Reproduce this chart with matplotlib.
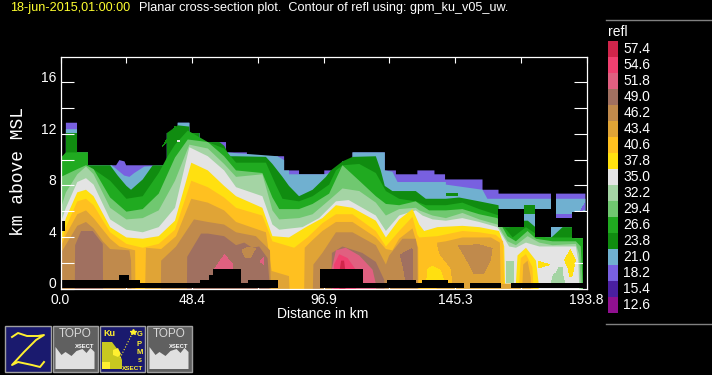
import matplotlib
matplotlib.use("Agg")
import matplotlib.pyplot as plt
from matplotlib.patches import Rectangle, Polygon

W, H = 712, 375
LEVELS = [12.6, 15.4, 18.2, 21.0, 23.8, 26.6, 29.4, 32.2, 35.0, 37.8, 40.6, 43.4, 46.2, 49.0, 51.8, 54.6, 57.4]
COLORS = ['#901090', '#4A1FA0', '#7860E0', '#70B0D0', '#108C10', '#20AA20', '#70C870', '#A4D4A4',
          '#E4E4E4', '#FFE010', '#FFC020', '#E0A436', '#C08A4C', '#A07060', '#E06080', '#F04070', '#D0254B']
COLOR_OF = dict(zip(LEVELS, COLORS))

# Echo-top height (km) of each reflectivity level along the section (km)
X_182 = [0, 1.8, 1.8, 5.9, 5.9, 9.9, 9.9, 20.3, 21.5, 23.4, 24, 39, 39, 43, 43, 47.3, 47.3, 51, 51, 60.8, 60.8, 68.5, 68.5, 82.2, 82.2, 87.7, 87.7, 97, 97, 103.7, 103.7, 107.4, 107.4, 119.3, 119.3, 123.4, 123.4, 131.3, 131.3, 137.6, 137.6, 141.5, 141.5, 155.3, 155.3, 161.2, 161.2, 193.2]
Z_182 = [10.1, 10.1, 12.9, 12.9, 10.6, 10.6, 9.6, 9.6, 10, 9.9, 9.6, 9.6, 12.1, 12.1, 12.9, 12.9, 12.1, 12.1, 11.4, 11.4, 10.6, 10.6, 10.3, 10.3, 9.2, 9.2, 8.9, 8.9, 9.2, 9.2, 9.9, 9.9, 10.6, 10.6, 9.2, 9.2, 8.9, 8.9, 9.2, 9.2, 8.9, 8.9, 8.5, 8.5, 7.7, 7.7, 7.4, 7.4]
X_210 = [0, 1.8, 1.8, 5.9, 5.9, 9.9, 9.9, 18.7, 23.3, 25.2, 27, 30.7, 39, 39, 43, 43, 47.3, 47.3, 51, 51, 58.4, 60.8, 79.8, 82.2, 82.2, 84, 84, 97, 103.7, 103.7, 107.4, 107.4, 119.3, 119.3, 122.1, 124, 130.7, 141.8, 141.8, 155.3, 157.1, 193.2]
Z_210 = [10.1, 10.1, 12.4, 12.4, 10.6, 10.6, 9.6, 9.6, 8.8, 8.7, 9.0, 9.5, 9.6, 12.1, 12.1, 12.9, 12.9, 12.1, 12.1, 11.4, 11.4, 10.6, 10.3, 10.0, 9.2, 9.2, 8.9, 8.9, 9.2, 9.9, 9.9, 10.6, 10.6, 9.2, 9.1, 8.3, 8.3, 8.3, 8.1, 7.7, 7.0, 7.0]
X_238 = [0, 1.8, 1.8, 5.9, 5.9, 9.9, 9.9, 18.1, 20.9, 24.1, 25.8, 30.1, 33.8, 39, 39, 43, 47.3, 47.3, 51, 51, 58.4, 60.2, 62, 64.5, 75.5, 77.9, 81.6, 84, 87.7, 92.7, 97.6, 99.4, 103.7, 107.4, 116, 117.8, 119.3, 122.1, 130.7, 134.4, 141.8, 146.7, 154.1, 161.2, 161.7, 165.1, 167.6, 170.7, 172, 174.8, 175, 180.7, 184.8, 188.5, 188.6, 192.5]
Z_238 = [10.1, 10.1, 12.1, 12.1, 10.6, 10.6, 9.6, 9.6, 8.8, 8, 7.7, 8.5, 9.6, 9.6, 12.1, 12.7, 12.6, 12.1, 12.1, 11.4, 11.4, 11.1, 10.3, 10.3, 10.25, 9.7, 8.7, 8, 7.2, 7.7, 8.7, 9.2, 9.9, 10.25, 10.3, 9.2, 8, 7.6, 7.6, 7.0, 7.0, 7.1, 6.8, 6.5, 4.8, 4.8, 4.9, 5.3, 5.3, 4.8, 4.0, 4.0, 4.8, 4.8, 3.9, 3.9]
X_266 = [0, 1.8, 9.9, 9.9, 18.1, 24.1, 30.1, 36, 39.3, 42, 46.7, 54.1, 60.1, 64.5, 75.5, 79.1, 81.6, 87.7, 92.7, 98.8, 101.3, 103.7, 109.9, 116, 119.7, 124.6, 130.7, 134.4, 141.8, 147.9, 154.1, 161.4, 163.3, 166.4, 171.3, 174.8, 178.6, 192.5]
Z_266 = [10.2, 10.6, 10.6, 9.6, 8.4, 7, 7.2, 9.0, 10.3, 11.2, 12.3, 11.4, 10.9, 9.8, 9.8, 8.1, 7, 6.8, 7.2, 8.1, 9.2, 9.6, 9.7, 9.0, 7.6, 7, 6.8, 6.5, 6.5, 6.7, 6.2, 5.7, 4.8, 4.0, 4.8, 4.3, 4.0, 4.0]
X_294 = [0, 6, 9.2, 12, 18.1, 24.1, 30.1, 36, 42, 46.7, 54.1, 60.1, 64.5, 74.2, 77.9, 80.4, 87.7, 92.7, 98.8, 103.7, 109.9, 116, 119.7, 124.6, 130.7, 132, 135.6, 141.8, 147.9, 154.1, 160.8, 164.5, 167.6, 171.9, 175, 181.1, 189.7, 191.5, 192.2]
Z_294 = [8.7, 9.3, 9.6, 9.3, 7.1, 6.0, 6.2, 7.4, 10.2, 11.6, 11.4, 10.3, 9.2, 9.0, 7.1, 6.2, 6.2, 6.6, 7.4, 9.6, 8.4, 7.2, 6.6, 6.5, 6.8, 6.6, 6.1, 6.1, 6.2, 5.8, 5.5, 4.1, 3.7, 4.5, 3.9, 3.7, 3.7, 3.3, 0.4]
X_322 = [0, 1.8, 6, 9.2, 12, 18.1, 24.1, 30.1, 36, 42, 47.3, 54.1, 60.1, 64.5, 74.2, 77.9, 80.4, 87.7, 92.7, 99.4, 103.7, 109.9, 116, 119.7, 124.6, 130.7, 132, 136.9, 141.8, 147.9, 154.1, 160.8, 164.5, 167.6, 171.9, 176.2, 181.1, 189.7, 190.9, 191.5]
Z_322 = [6.3, 7.5, 8.9, 9.5, 8.9, 6.3, 5.4, 5.5, 6.1, 8.4, 11.2, 10.9, 9.7, 8.7, 8.9, 6.1, 5.4, 5.5, 5.8, 7.0, 7.8, 7.6, 6.7, 5.7, 6.2, 6.3, 6.1, 5.7, 5.5, 5.9, 5.4, 5.0, 3.7, 3.4, 4.1, 3.6, 3.4, 3.5, 2.7, 0.4]
X_350 = [0, 1.8, 6, 9.2, 12, 18.1, 24.1, 30.1, 36, 42, 47.3, 54.1, 60.1, 64.5, 74.2, 77.9, 80.4, 89, 95.1, 101.3, 106, 116, 119.7, 124.6, 130.7, 133.2, 136.9, 141.8, 147.9, 154.1, 160.8, 165.1, 167.6, 171.3, 176.2, 189.7, 190.6, 190.9]
Z_350 = [5.2, 6.3, 8.3, 8.6, 8.1, 5.4, 4.6, 4.4, 4.8, 6.3, 11, 10.3, 9.2, 7.9, 7.2, 5, 4.6, 4.8, 5.5, 6.8, 6.9, 5.7, 4.5, 5.7, 6.1, 5.7, 5.4, 5.3, 5.5, 5.2, 4.8, 3.3, 3.2, 3.6, 3.3, 3.3, 2.2, 0.4]
X_378 = [0, 1.8, 6, 9.2, 12, 18.1, 24.1, 30.1, 36, 42, 48, 54.1, 60.1, 64.5, 74.2, 77.9, 84, 90.2, 96.3, 101.3, 107.4, 116, 119.7, 124.6, 129.5, 132, 133.8, 138.7, 147.9, 154.1, 161.4, 163.3, 163.6, 167.6, 168.2, 171.3, 175, 176]
Z_378 = [4.1, 5.5, 7.5, 7.7, 7.2, 4.8, 4, 3.9, 4.1, 5.3, 9.8, 9.2, 8, 7.2, 6.3, 4.1, 4, 4.8, 5.5, 6.5, 6.3, 5.3, 4, 5.4, 6.2, 5, 4.5, 4.8, 4.9, 4.8, 4.5, 3.3, 0.4, 0.4, 2.6, 3.2, 2.2, 0.4]
X_406 = [0, 1.8, 6, 9.2, 12, 18.1, 24.1, 30.1, 36, 42, 48, 54.1, 60.1, 64.5, 74.2, 77.9, 85.9, 90.8, 96.3, 101.3, 107.4, 116, 119.7, 124.6, 129.5, 131.3, 132, 138.7, 147.9, 154.1, 160.2, 162.9, 163.3, 168.8, 169.4, 171.3, 173.7, 174]
Z_406 = [3.5, 4.8, 6.8, 7.0, 6.5, 4.4, 3.5, 3.2, 3.5, 4.6, 8.4, 7.9, 7.1, 6.3, 5.7, 3.7, 3.2, 4.0, 5.1, 5.8, 5.8, 4.5, 3.3, 4.5, 5.6, 4.2, 4.0, 4.1, 4.5, 4.4, 4.2, 3.7, 0.4, 0.4, 2.4, 2.7, 1.7, 0.4]
X_434 = [0, 1.8, 6, 9.2, 12, 18.1, 21.5, 27.3, 27.4, 31, 31.3, 36.9, 42.4, 48, 54.1, 60.1, 64.5, 75.5, 77.6, 84, 84.2, 89.6, 89.8, 92.7, 96.3, 101.3, 107.4, 116, 119.7, 122.1, 124.6, 129.5, 131.6, 131.7, 138.4, 138.6, 141.8, 147.9, 158.4, 161.7, 162, 170, 170.3, 171.9, 173.1, 173.2]
Z_434 = [3.3, 4.2, 5.8, 6.1, 5.5, 3.9, 3.3, 3, 0, 0, 3.2, 3.1, 4.1, 7, 6.7, 6.1, 5.2, 4.4, 1.4, 1, 0, 0, 3.2, 3.8, 4.5, 5.2, 5.2, 4, 3.1, 3, 3.9, 4.7, 3.2, 0, 0, 3.6, 3.7, 4, 4, 3.6, 0.4, 0.4, 1.9, 2.2, 0.9, 0]
X_462 = [0, 6, 9.2, 12, 15.4, 18.1, 25.2, 25.8, 26, 36.8, 36.9, 42.4, 49, 54.1, 60.1, 64.5, 71.8, 77, 77.3, 92.8, 93, 96.3, 101.3, 107.4, 116, 119.7, 120.9, 125.8, 130.7, 131.3, 131.4]
Z_462 = [2.8, 4.9, 5.2, 4.7, 3.7, 3.1, 3, 2.2, 0, 0, 2.2, 3.3, 5.4, 5.2, 5.0, 4.4, 4.1, 3, 0, 0, 1.9, 2.8, 4.4, 4.4, 3.4, 1.9, 2.6, 3.9, 3.9, 3.2, 0]
X_490 = [5.1, 5.2, 7.4, 11.7, 15.4, 15.5, 46.4, 46.5, 51.6, 54.1, 60.1, 64.5, 67.5, 70.5, 73, 76.1, 76.7, 76.8, 99.6, 99.8, 103.7, 111, 116, 119.1, 119.2]
Z_490 = [0, 3.4, 4.5, 4.5, 3.5, 0, 0, 2.5, 4.3, 4.3, 4.1, 3.4, 3.6, 3.2, 3.3, 2.4, 0.8, 0, 0, 2.8, 3.3, 2.8, 2.1, 0.7, 0]
X_518 = [99.7, 99.8, 101.3, 104.9, 109.9, 114.8, 116, 116.1]
Z_518 = [0, 1.6, 3.0, 3.2, 2.6, 1.5, 0.4, 0]
X_546 = [100.5, 100.6, 102.5, 105.6, 108.6, 108.7]
Z_546 = [0, 1.9, 2.7, 2.4, 1.5, 0]
X_574 = [102.6, 102.7, 103.2, 104.3, 104.7, 104.8]
Z_574 = [0, 1.5, 2.2, 2.2, 1.5, 0]

BANDS = [(18.2, X_182, Z_182), (21.0, X_210, Z_210), (23.8, X_238, Z_238), (26.6, X_266, Z_266),
         (29.4, X_294, Z_294), (32.2, X_322, Z_322), (35.0, X_350, Z_350), (37.8, X_378, Z_378),
         (40.6, X_406, Z_406), (43.4, X_434, Z_434), (46.2, X_462, Z_462), (49.0, X_490, Z_490),
         (51.8, X_518, Z_518), (54.6, X_546, Z_546), (57.4, X_574, Z_574)]

# Closed pockets of reflectivity: (level, x km, z km)
POCKETS = [
    (23.8, [37.5, 42.4, 39.5], [11.0, 12.6, 11.5]),
    (35.0, [42.8, 44.2, 44.2, 42.8], [11.35, 11.35, 11.5, 11.5]),
    (23.8, [142.2, 146.3, 146.3, 142.2], [7.2, 7.2, 7.4, 7.4]),
    (18.2, [182.6, 188.5, 188.5, 182.6], [5.5, 5.5, 5.8, 5.8]),
    (18.2, [191.5, 193.2, 193.2], [5.95, 6.2, 6.6]),
    (23.8, [170.7, 175, 175, 170.7], [5.8, 5.8, 6.5, 6.5]),
    (32.2, [164.3, 167, 167, 164.3], [0.4, 0.4, 2.1, 2.1]),
    (32.2, [180.9, 181.5, 182.6, 183.5, 185, 185, 185.8], [0.4, 1.0, 1.2, 1.6, 1.6, 1.0, 0.4]),
    (37.8, [185.8, 187.8, 189.7, 188.5, 187.7, 187], [2.2, 3.0, 2.2, 1.0, 0.9, 1.6]),
    (37.8, [176, 180.1, 176], [2.1, 1.85, 1.6]),
    (40.6, [138.4, 139.5, 143.5, 144.2, 138.4], [3.4, 2.6, 1.5, 0.4, 0.4]),
    (37.8, [135, 135.4, 137, 140, 141], [0.7, 1.5, 1.7, 1.4, 0.7]),
    (46.2, [146.7, 154.1, 159, 158.4, 155.9, 152.2, 149.8], [3.3, 3.4, 3.1, 2.2, 1.2, 1.2, 2.2]),
    (49.0, [125.2, 129.5, 129.8, 127.1, 126.4], [2.6, 3.1, 0.7, 0.7, 1.6]),
    (46.2, [66.9, 69.3, 71.8, 69.9, 68.1], [3.0, 3.2, 3.1, 2.4, 2.4]),
    (51.8, [56.8, 60.4, 63.3, 63.3], [1.5, 2.6, 1.9, 1.5]),
    (51.8, [73.6, 74.8, 74.8], [2.1, 2.4, 1.9]),
]

# Terrain height (km), stepwise from each x
TERRAIN_X = [0, 21.4, 25.3, 29.4, 51.4, 54.8, 56.3, 66.5, 69.2, 80.1, 95.7, 111.4, 120.3, 131, 133.2, 142.9, 148.8, 151, 162.4, 165.8, 193.8]
TERRAIN_Z = [0.65, 1.08, 0.65, 0.4, 0.65, 1.08, 1.5, 0.4, 0.65, 0, 1.5, 0.4, 0.65, 0.4, 0.65, 0.4, 0, 0.4, 0, 0.4, 0.4]

# Missing-data boxes: x0, x1, z0, z1
NODATA = [(0, 1.8, 4.5, 5.2), (161.2, 170.7, 4.8, 6.2), (175, 180.7, 4.0, 6.2), (180.7, 182.6, 4.8, 7.4),
          (182.6, 188.5, 4.8, 5.5), (188.5, 192.5, 3.9, 5.9), (192.5, 193.8, 0, 5.9)]

YTICKS = [0, 2, 4, 6, 8, 10, 12, 14, 16]
YLABELS = ['0', '', '4', '', '8', '', '12', '', '16']
XTICKS = [0.0, 24.2, 48.4, 72.7, 96.9, 121.1, 145.3, 169.6, 193.8]
XLABELS = ['0.0', '', '48.4', '', '96.9', '', '145.3', '', '193.8']

plt.rcParams['font.family'] = ['Liberation Sans', 'DejaVu Sans']
fig = plt.figure(figsize=(W / 100, H / 100), dpi=100, facecolor='black')


def pixel_axes(x0, y0, x1, y1, **kw):
    return fig.add_axes([x0 / W, 1 - y1 / H, (x1 - x0) / W, (y1 - y0) / H], **kw)


ax = pixel_axes(60.5, 56.5, 586.5, 288.5, facecolor='black')
ax.set_xlim(0, 193.8)
ax.set_ylim(0, 18)
for level, xs, zs in BANDS:
    ax.fill_between(xs, 0, zs, color=COLOR_OF[level], lw=0, antialiased=False)
for level, xs, zs in POCKETS:
    ax.add_patch(Polygon(list(zip(xs, zs)), closed=True, fc=COLOR_OF[level], ec='none', antialiased=False))
ax.fill_between(TERRAIN_X, 0, TERRAIN_Z, step='post', color='black', lw=0, antialiased=False, zorder=3)
for x0, x1, z0, z1 in NODATA:
    ax.add_patch(Rectangle((x0, z0), x1 - x0, z1 - z0, fc='black', ec='none', antialiased=False, zorder=3))

for s in ax.spines.values():
    s.set_color('white')
    s.set_linewidth(0.9)
    s.set_zorder(6)
ax.set_xticks(XTICKS, XLABELS)
ax.set_yticks(YTICKS, YLABELS)
ax.tick_params(axis='x', direction='in', length=4.3, width=0.8, color='white', labelcolor='white',
               labelsize=10, top=True, pad=3)
ax.tick_params(axis='y', direction='in', length=9.4, width=0.8, color='white', labelcolor='white',
               labelsize=10, right=True, pad=3)
for t in ax.get_yticklabels():
    t.set_verticalalignment('baseline')

ov = fig.add_axes([0, 0, 1, 1], facecolor='none')
ov.set_xlim(0, W)
ov.set_ylim(H, 0)
ov.axis('off')
ov.text(10, 8, '18-jun-2015,01:00:00', color='#FFFF30', fontsize=9.1, va='center', ha='left')
ov.text(139, 8, 'Planar cross-section plot.  Contour of refl using: gpm_ku_v05_uw.', color='white',
        fontsize=9.1, va='center', ha='left')
ov.text(323, 314, 'Distance in km', color='white', fontsize=10, va='center', ha='center')
ov.text(19, 172, 'km above MSL', color='white', fontsize=13, rotation=90, va='center', ha='center',
        family='Liberation Mono')
ov.plot([606, 712], [19.5, 19.5], color='#808080', lw=1)
ov.plot([606, 712], [324, 324], color='#808080', lw=1)
ov.text(608, 32, 'refl', color='white', fontsize=10, va='center', ha='left')

cax = pixel_axes(608, 41, 618, 313)
cax.barh(range(len(LEVELS)), [1] * len(LEVELS), height=1, color=COLORS, antialiased=False)
cax.set_xlim(0, 1)
cax.set_ylim(-0.5, len(LEVELS) - 0.5)
cax.axis('off')
for i, v in enumerate(LEVELS):
    cax.text(1.55, i, f'{v:.1f}', color='white', fontsize=10, va='center', ha='left')


def frame(x, fc):
    ov.add_patch(Rectangle((x, 325.5), 45.5, 46.5, fc=fc, ec='#A0A0A0', lw=1))


def topo(x):
    frame(x, '#606060')
    ov.fill([x + 3, x + 3, x + 9, x + 13, x + 19, x + 24, x + 30, x + 34, x + 38, x + 42, x + 42],
            [369, 347, 355, 352, 356, 351, 349, 353, 348, 352, 369], color='#E0E0E0', lw=0)
    ov.text(x + 23, 334, 'TOPO', color='#D8D8D8', fontsize=8.5, ha='center', va='center')
    ov.text(x + 32, 346, 'XSECT', color='white', fontsize=4.2, weight='bold', ha='center', va='center')


frame(5, '#1A1A6E')
ov.plot([12, 18, 27, 38, 44, 36, 24, 12, 18, 32, 40, 44],
        [337, 333, 336, 336, 335, 340, 352, 365, 362, 365, 367, 362], color='#FFF030', lw=1.4)
topo(52.5)
frame(99.5, '#1A1A6E')
ov.fill([102, 102, 112, 118, 122, 122], [369, 342, 342, 350, 360, 369], color='#C8C820', lw=0)
ov.fill([102, 102, 110, 110], [369, 362, 362, 369], color='#FFF030', lw=0)
ov.fill([113, 118, 121, 118, 113], [350, 348, 354, 357, 355], color='#FFF030', lw=0)
ov.plot([120, 133], [358, 332], color='#FFF030', lw=0.8, ls=':')
ov.plot([133], [332], marker='*', color='#FFF030', ms=4)
ov.text(109, 333, 'Ku', color='#FFF030', fontsize=6.5, weight='bold', ha='center', va='center')
for i, c in enumerate('GPM'):
    ov.text(139.5, 335 + i * 9, c, color='#FFF030', fontsize=5.5, weight='bold', ha='center', va='center')
ov.text(139.5, 361, 'S', color='#FFF030', fontsize=4.2, weight='bold', ha='center', va='center')
ov.text(133, 368, 'XSECT', color='#FFF030', fontsize=4.6, weight='bold', ha='center', va='center')
topo(146.5)

fig.savefig('out.png', dpi=100, facecolor='black')
